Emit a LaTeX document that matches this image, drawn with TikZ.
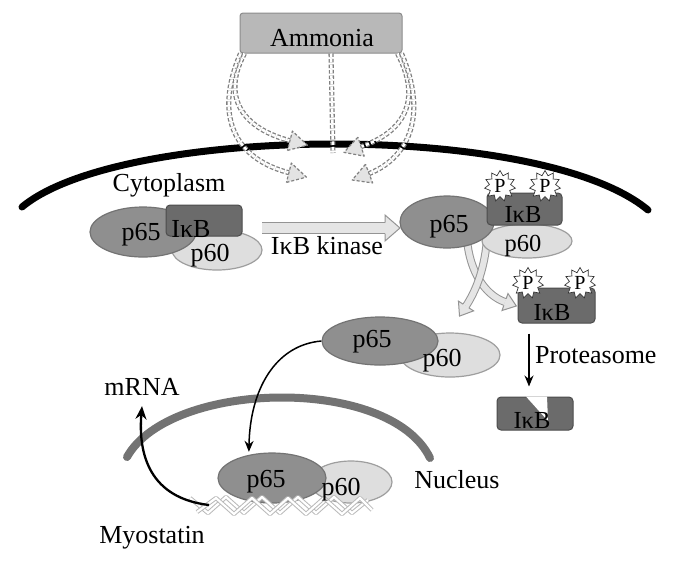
\documentclass[tikz,border=0pt]{standalone}
\usepackage{fontspec}
\setmainfont{Liberation Serif}
\usetikzlibrary{shapes.geometric,decorations.markings,arrows.meta}
\definecolor{cpA}{gray}{0.56}
\definecolor{cpAd}{gray}{0.45}
\definecolor{cpB}{gray}{0.87}
\definecolor{cpBd}{gray}{0.62}
\definecolor{cikb}{gray}{0.42}
\definecolor{cikbd}{gray}{0.30}
\definecolor{camm}{gray}{0.72}
\definecolor{cammd}{gray}{0.55}
\definecolor{cnuc}{gray}{0.45}
\definecolor{chol}{gray}{0.90}
\definecolor{chold}{gray}{0.58}
\definecolor{cdash}{gray}{0.50}
\newcommand\amarrow[1]{\draw[amshaft] #1; \path[amhead] #1;}
\begin{document}
\begin{tikzpicture}[x=1pt,y=-1pt,
  lbl/.style={font=\fontsize{26}{30}\selectfont, inner sep=0pt, anchor=base},
  slbl/.style={font=\fontsize{24.5}{28}\selectfont, inner sep=0pt, anchor=base},
  pA/.style={ellipse, fill=cpA, draw=cpAd, line width=1.2pt, inner sep=0pt},
  pB/.style={ellipse, fill=cpB, draw=cpBd, line width=1.2pt, inner sep=0pt},
  ikb/.style={rectangle, rounded corners=4pt, fill=cikb, draw=cikbd, line width=1pt, inner sep=0pt},
  pstar/.style={star, star points=11, star point ratio=1.45, minimum size=31pt, inner sep=0pt,
    fill=white, draw=gray!40!black, line width=0.7pt, font=\fontsize{20}{20}\selectfont},
  ammbox/.style={rectangle, rounded corners=3pt, fill=camm, draw=cammd, line width=1pt,
    minimum width=162pt, minimum height=40pt, inner sep=0pt},
  amshaft/.style={draw=cdash, line width=1.3pt, dash pattern=on 3.5pt off 2pt, double=white, double distance=2.5pt},
  amhead/.style={decorate, decoration={markings, mark=at position 0.999 with {
     \draw[fill=gray!22, draw=cdash, line width=1.2pt, dash pattern=on 3pt off 2pt, line join=round]
       (-1pt,-10pt) -- (17pt,0pt) -- (-1pt,10pt) -- cycle;}}},
  kinshaft/.style={draw=chold, line width=1pt, double=chol, double distance=10pt},
  kinhead/.style={decorate, decoration={markings, mark=at position 1 with {
     \fill[chol] (0pt,-13pt) -- (15pt,0pt) -- (0pt,13pt) -- cycle;
     \draw[chold, line width=1pt, line join=miter] (0pt,5.5pt) -- (0pt,13pt) -- (15pt,0pt) -- (0pt,-13pt) -- (0pt,-5.5pt);}}},
  splitshaft/.style={draw=chold, line width=1pt, double=chol, double distance=6pt},
  splithead/.style={decorate, decoration={markings, mark=at position 1 with {
     \fill[chol] (0pt,-9pt) -- (12pt,0pt) -- (0pt,9pt) -- cycle;
     \draw[chold, line width=1pt, line join=miter] (0pt,3.5pt) -- (0pt,9pt) -- (12pt,0pt) -- (0pt,-9pt) -- (0pt,-3.5pt);}}},
  blk/.style={draw=black, line width=1.5pt, -{Stealth[length=11pt,width=9pt]}},
  blkthick/.style={draw=black, line width=2.3pt, -{Stealth[length=13pt,width=11pt]}}
]
\fill[white] (0,0) rectangle (700,566);
\useasboundingbox (0,0) rectangle (700,566);

% cell membrane
\coordinate (m0) at (22,207);
\coordinate (m1) at (648,210);
\draw[line width=7pt, line cap=round] (m0) .. controls (120,125) and (540,120) .. (m1);

% ammonia
\node[ammbox] (amm) at (321,33) {};
\coordinate (a1) at ([xshift=5pt]amm.south west);
\coordinate (a2) at ([xshift=1pt]amm.south west);
\coordinate (a3) at ([xshift=-5pt]amm.south east);
\coordinate (a4) at ([xshift=-1pt]amm.south east);
\coordinate (a5) at ([xshift=10pt]amm.south);
\coordinate (a6) at (333,153);
\coordinate (e1) at (291,141);
\coordinate (e2) at (290,173);
\coordinate (e3) at (360,147);
\coordinate (e4) at (368,174);
\amarrow{(a1) .. controls (222,95) and (240,128) .. (e1)}
\amarrow{(a2) .. controls (212,120) and (238,160) .. (e2)}
\amarrow{(a3) .. controls (422,100) and (405,132) .. (e3)}
\amarrow{(a4) .. controls (430,120) and (405,160) .. (e4)}
\draw[amshaft] (a5) -- (a6);

% left complex
\node[pB, minimum width=90pt, minimum height=40pt] (lp60) at (217,250) {};
\node[pA, minimum width=106pt, minimum height=50pt] (lp65) at (143,232) {};
\node[ikb, minimum width=76pt, minimum height=31pt] (likb) at (204,220.5) {};

% kinase arrow
\coordinate (k0) at (262,228);
\coordinate (k1) at (385,228);
\draw[kinshaft] (k0) -- (k1);
\path[kinhead] (k0) -- (k1);

% split arrows
\coordinate (s0) at (467,240);
\coordinate (s1) at (505,302);
\coordinate (s2) at (487,240);
\coordinate (s3) at (466,306);
\draw[splitshaft] (s0) .. controls (470,272) and (485,295) .. (s1);
\path[splithead] (s0) .. controls (470,272) and (485,295) .. (s1);
\draw[splitshaft] (s2) .. controls (484,272) and (475,292) .. (s3);
\path[splithead] (s2) .. controls (484,272) and (475,292) .. (s3);

% right complex
\node[pB, minimum width=90pt, minimum height=34pt] (rp60) at (527,241) {};
\node[pA, minimum width=94pt, minimum height=52pt] (rp65) at (447,222) {};
\node[ikb, minimum width=75pt, minimum height=32pt] (rikb) at (524.5,209) {};
\node[pstar] (rst1) at (500,186) {P};
\node[pstar] (rst2) at (545,186) {P};

% free phosphorylated IkB
\node[ikb, minimum width=77pt, minimum height=35pt] (fikb) at (556.5,305.5) {};
\node[pstar] (fst1) at (528,283) {P};
\node[pstar] (fst2) at (580,283) {P};

% proteasome
\node[ikb, minimum width=76pt, minimum height=33pt] (bikb) at (535,413.5) {};
\fill[white] (526,396.5) -- (547,396.5) -- (548,421) -- cycle;
\draw[blk] ([xshift=-27.5pt,yshift=-10pt]fikb.south) -- ([xshift=-6pt,yshift=10pt]bikb.north);

% middle free dimer
\node[pB, minimum width=100pt, minimum height=44pt] (mp60) at (450,355) {};
\node[pA, minimum width=116pt, minimum height=48pt] (mp65) at (380,341) {};

% nucleus
\coordinate (n0) at (127,457);
\coordinate (n1) at (430,458);
\draw[line width=8pt, draw=cnuc, line cap=round] (n0) .. controls (170,380) and (390,375) .. (n1);

% bottom dimer
\node[pB, minimum width=82pt, minimum height=42pt] (bp60) at (351,482) {};
\node[pA, minimum width=108pt, minimum height=50pt] (bp65) at (272,478) {};

% translocation arrow
\draw[blk, shorten >=3pt] (mp65.180) .. controls (275,345) and (250,390) .. (bp65.135);

% DNA
\draw[draw=gray!55, line width=1pt, double=white, double distance=2.2pt, line join=round]
  (190,498) -- (208,513) -- (226,497) -- (244,513) -- (262,497) -- (280,513) -- (298,497)
  -- (316,513) -- (334,497) -- (352,513) -- (368,500);
\draw[draw=gray!55, line width=1pt, double=white, double distance=2.2pt, line join=round]
  (197,512) -- (216,498) -- (234,514) -- (252,498) -- (270,514) -- (288,498) -- (306,514)
  -- (324,498) -- (342,514) -- (360,498) -- (372,510);

% labels
\node[lbl] (ammt) at (322,46) {Ammonia};
\node[lbl] (cyto) at (169,191) {Cytoplasm};
\node[lbl] (kin) at (327,254) {IκB kinase};
\node[lbl] (tlp65) at (141,240) {p65};
\node[lbl] (tlikb) at (191,237) {IκB};
\node[lbl] (tlp60) at (210,261) {p60};
\node[lbl] (trp65) at (449,232) {p65};
\node[slbl] (trikb) at (523,222) {IκB};
\node[slbl] (trp60) at (523,251) {p60};
\node[slbl] (tfikb) at (552,320) {IκB};
\node[lbl, anchor=base west] (prot) at (535,363) {Proteasome};
\node[slbl] (tbikb) at (532,428) {IκB};
\node[lbl] (tmp65) at (372,347) {p65};
\node[lbl] (tmp60) at (442,366) {p60};
\node[lbl] (mrna) at (142,395) {mRNA};
\node[lbl] (nucl) at (457,488) {Nucleus};
\node[lbl] (tbp65) at (266,487) {p65};
\node[lbl] (tbp60) at (341,495) {p60};
\node[lbl] (myo) at (152,543) {Myostatin};

% mRNA arrow
\coordinate (dn) at (209,505);
\draw[blkthick] (dn) .. controls (150,498) and (138,455) .. ([yshift=-11pt]mrna.south);
\end{tikzpicture}
\end{document}
